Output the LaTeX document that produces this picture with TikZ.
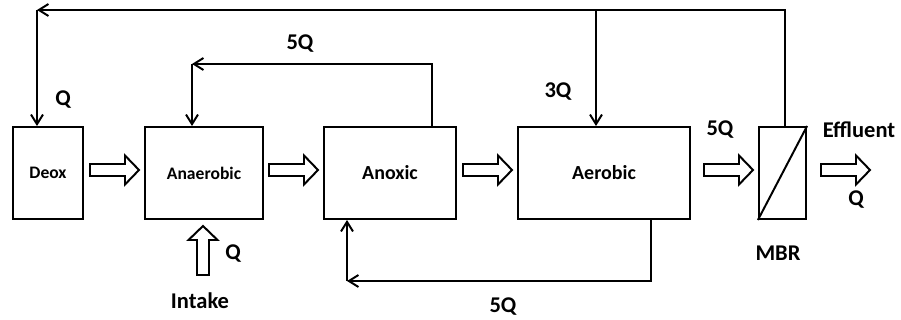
\documentclass[tikz,border=0pt]{standalone}
\usepackage{fontspec}
\setmainfont{Carlito}
\usepackage{tikz}
\usetikzlibrary{arrows.meta,positioning,calc}

\begin{document}
\begin{tikzpicture}[
    x=0.025cm, y=-0.025cm,
    tank/.style={draw, line width=1.4pt, minimum height=2.3cm, inner sep=0pt, font=\bfseries\fontsize{12.5}{14}\selectfont},
    bigtank/.style={tank, font=\bfseries\fontsize{14.2}{16}\selectfont},
    lbl/.style={font=\bfseries\fontsize{16}{18}\selectfont, inner sep=0pt},
    flow/.style={line width=1.4pt, -{Straight Barb[length=2.4mm, width=3mm]}},
    blockarrow/.pic={\draw[line width=1.4pt, line join=miter, fill=white]
      (0,-6) -- (35,-6) -- (35,-14.5) -- (49,0) -- (35,14.5) -- (35,6) -- (0,6) -- cycle;}
  ]
  \useasboundingbox (0,0) rectangle (901,320);

  \node[tank, minimum width=1.75cm] (deox) at (48,173) {Deox};
  \node[tank, minimum width=2.94cm] (anaerobic) at (204,173) {Anaerobic};
  \node[bigtank, minimum width=3.3cm] (anoxic) at (390,173) {Anoxic};
  \node[bigtank, minimum width=4.3cm] (aerobic) at (604,173) {Aerobic};
  \node[tank, minimum width=1.18cm] (mbr) at (782.5,173) {};
  \draw[line width=1.4pt] (mbr.south west) -- (mbr.north east);

  \pic at (90,170) {blockarrow};
  \pic at (269,170) {blockarrow};
  \pic at (463,170) {blockarrow};
  \pic at (704,170) {blockarrow};
  \pic at (821,170) {blockarrow};
  \pic[rotate=90] at (203,275) {blockarrow};

  \coordinate (topl) at (37,10);
  \coordinate (topr) at (785,10);
  \coordinate (topaer) at (596,10);
  \coordinate (recl) at (192,64);
  \coordinate (recr) at (432,64);
  \coordinate (botl) at (347,281);
  \coordinate (botr) at (651,281);

  \draw[flow] (mbr.north -| topr) -- (topr) -- (topl);
  \draw[flow] (topl) -- (deox.north -| topl);
  \draw[flow] (topaer) -- (aerobic.north -| topaer);
  \draw[flow] (anoxic.north -| recr) -- (recr) -- (recl);
  \draw[flow] (recl) -- (anaerobic.north -| recl);
  \draw[flow] (aerobic.south -| botr) -- (botr) -- (botl);
  \draw[flow] (botl) -- (anoxic.south -| botl);

  \node[lbl] (qdeox) at (63,100) {Q};
  \node[lbl] (q5top) at (300,44) {5Q};
  \node[lbl] (q3) at (558,92) {3Q};
  \node[lbl] (q5mbr) at (720,130) {5Q};
  \node[lbl] (effl) at (859,130) {Effluent};
  \node[lbl] (qeff) at (856,200) {Q};
  \node[lbl] (mbrlbl) at (778,253) {MBR};
  \node[lbl] (q5bot) at (503,307) {5Q};
  \node[lbl] (qin) at (233,254) {Q};
  \node[lbl] (intake) at (200,301) {Intake};
\end{tikzpicture}
\end{document}
